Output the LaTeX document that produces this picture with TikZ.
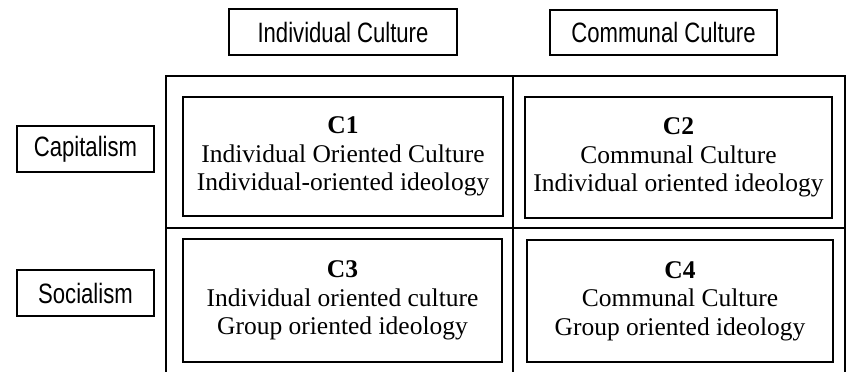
\documentclass[tikz,border=0pt]{standalone}
\usepackage{fontspec}
\setmainfont{Liberation Serif}
\newfontfamily\narrowsans[FakeStretch=0.79]{Liberation Sans}
\begin{document}
\begin{tikzpicture}[x=1pt,y=-1pt,
  labelbox/.style={draw,line width=2pt,inner sep=0pt,
    font=\narrowsans\fontsize{28}{32}\selectfont},
  cellbox/.style={draw,line width=2pt,inner sep=0pt,align=center,
    font=\fontsize{25.5}{28.5}\selectfont},
  gridline/.style={line width=2pt}]
\useasboundingbox (0,0) rectangle (846,372);

% column headers
\node[labelbox,minimum width=228pt,minimum height=46pt] (ind) at (343,32) {Individual Culture};
\node[labelbox,minimum width=227pt,minimum height=45pt] (com) at (663.5,32.5) {Communal Culture};

% row headers
\node[labelbox,minimum width=137pt,minimum height=46pt] (cap) at (85.5,149) {Capitalism};
\node[labelbox,minimum width=137pt,minimum height=46pt] (soc) at (85.5,293) {Socialism};

% outer grid, open at the bottom
\coordinate (gtl) at (166,76);
\coordinate (gtr) at (845,76);
\coordinate (gbl) at (166,372);
\coordinate (gbr) at (845,372);
\coordinate (mt) at (513,76);
\coordinate (mb) at (513,372);
\coordinate (ml) at (166,228);
\coordinate (mr) at (845,228);
\draw[gridline] (gbl) -- (gtl) -- (gtr) -- (gbr);
\draw[gridline] (mt) -- (mb);
\draw[gridline] (ml) -- (mr);

% quadrant cells
\node[cellbox,minimum width=320pt,minimum height=119pt] (c1) at (343,156.5)
  {\textbf{C1}\\Individual Oriented Culture\\Individual-oriented ideology};
\node[cellbox,minimum width=307pt,minimum height=121pt] (c2) at (678.5,157.5)
  {\textbf{C2}\\Communal Culture\\Individual oriented ideology};
\node[cellbox,minimum width=319pt,minimum height=123pt] (c3) at (342.5,300.5)
  {\textbf{C3}\\Individual oriented culture\\Group oriented ideology};
\node[cellbox,minimum width=306pt,minimum height=122pt] (c4) at (680,301)
  {\textbf{C4}\\Communal Culture\\Group oriented ideology};
\end{tikzpicture}
\end{document}
